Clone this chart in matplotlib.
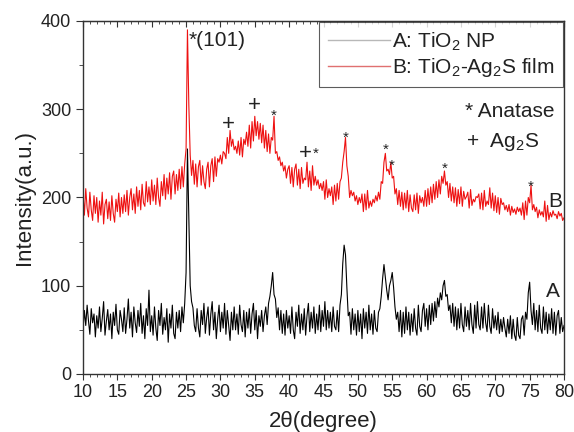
import numpy as np
import matplotlib
matplotlib.use("Agg")
import matplotlib.pyplot as plt
from matplotlib.lines import Line2D
from matplotlib.ticker import MultipleLocator

plt.rcParams["font.family"] = ["Liberation Sans", "DejaVu Sans"]
plt.rcParams["mathtext.fontset"] = "custom"
plt.rcParams["mathtext.rm"] = "Liberation Sans"
plt.rcParams["mathtext.it"] = "Liberation Sans"

# 2theta grid, 0.2 degree step from 10 to 80
two_theta = np.linspace(10, 80, 351)

# A: TiO2 NP (black)
intensity_a = [
    50, 72, 55, 78, 60, 45, 74, 58, 68, 42,
    66, 52, 76, 48, 63, 82, 44, 60, 73, 50,
    68, 40, 70, 55, 79, 50, 45, 72, 62, 48,
    75, 46, 62, 85, 52, 70, 42, 76, 58, 47,
    72, 54, 80, 46, 66, 40, 74, 55, 95, 48,
    66, 44, 76, 52, 38, 72, 55, 80, 45, 64,
    50, 74, 36, 68, 52, 78, 46, 40, 70, 52,
    72, 48, 76, 58, 80, 115, 255, 175, 100, 82,
    75, 55, 48, 74, 52, 42, 72, 56, 80, 46,
    64, 76, 44, 68, 82, 50, 70, 40, 62, 78,
    48, 70, 52, 80, 45, 72, 55, 38, 70, 50,
    76, 50, 68, 45, 78, 56, 48, 72, 42, 70,
    52, 74, 46, 68, 80, 50, 72, 40, 66, 54,
    72, 48, 66, 76, 56, 80, 88, 100, 115, 90,
    85, 64, 75, 50, 72, 46, 68, 44, 72, 52,
    66, 46, 76, 50, 40, 70, 54, 78, 46, 68,
    50, 74, 44, 66, 80, 48, 70, 52, 76, 46,
    68, 50, 78, 48, 72, 54, 82, 50, 72, 52,
    70, 48, 76, 54, 50, 72, 48, 78, 90, 125,
    146, 135, 98, 66, 70, 45, 74, 50, 68, 44,
    72, 48, 68, 40, 74, 52, 70, 46, 78, 50,
    68, 45, 72, 52, 48, 70, 74, 88, 108, 124,
    110, 95, 84, 100, 106, 115, 98, 76, 62, 70,
    48, 72, 42, 70, 46, 76, 50, 70, 44, 68,
    48, 74, 52, 44, 78, 54, 48, 72, 80, 54,
    74, 50, 78, 56, 80, 60, 82, 64, 86, 76,
    92, 84, 100, 106, 88, 90, 72, 78, 58, 80,
    54, 76, 50, 74, 52, 80, 56, 48, 76, 54,
    72, 50, 80, 56, 46, 78, 52, 82, 56, 50,
    76, 52, 80, 58, 48, 78, 54, 46, 74, 52,
    66, 50, 70, 46, 62, 48, 64, 52, 42, 62,
    46, 66, 40, 62, 44, 38, 64, 44, 40, 62,
    66, 44, 70, 62, 92, 104, 72, 56, 80, 50,
    72, 48, 78, 52, 46, 76, 50, 70, 46, 68,
    50, 74, 46, 70, 44, 66, 72, 46, 64, 48,
    55,
]

# B: TiO2-Ag2S film (red)
intensity_b = [
    205, 180, 210, 188, 178, 206, 186, 174, 202, 182,
    200, 172, 196, 180, 206, 170, 192, 198, 176, 195,
    174, 202, 182, 172, 198, 184, 205, 178, 200, 182,
    203, 184, 208, 180, 200, 210, 186, 204, 182, 212,
    190, 208, 186, 215, 194, 190, 218, 195, 212, 192,
    220, 196, 214, 192, 222, 200, 190, 218, 202, 226,
    198, 222, 204, 228, 198, 224, 230, 204, 226, 208,
    232, 210, 235, 212, 238, 255, 390, 305, 248, 225,
    242, 215, 238, 212, 235, 242, 214, 236, 218, 210,
    232, 240, 212, 236, 244, 218, 246, 224, 244, 240,
    248, 238, 252, 250, 244, 268, 250, 276, 258, 266,
    254, 258, 250, 264, 248, 268, 246, 266, 260, 274,
    258, 282, 256, 286, 264, 292, 270, 286, 266, 284,
    262, 282, 256, 276, 252, 272, 250, 268, 265, 292,
    250, 252, 242, 246, 236, 240, 230, 236, 222, 232,
    236, 216, 234, 212, 232, 238, 214, 232, 210, 234,
    216, 222, 220, 240, 212, 230, 208, 236, 214, 224,
    214, 220, 210, 216, 208, 218, 198, 220, 200, 210,
    202, 212, 192, 214, 196, 216, 198, 218, 222, 240,
    252, 268, 236, 224, 200, 208, 202, 206, 196, 202,
    192, 200, 194, 204, 184, 204, 186, 208, 188, 196,
    190, 198, 194, 202, 196, 206, 198, 218, 216, 240,
    250, 230, 232, 226, 240, 222, 224, 204, 210, 192,
    208, 190, 206, 186, 205, 188, 208, 184, 203, 188,
    184, 203, 186, 205, 182, 202, 194, 200, 190, 208,
    190, 210, 192, 212, 194, 215, 198, 218, 200, 220,
    204, 224, 216, 230, 214, 218, 200, 216, 196, 212,
    194, 211, 190, 209, 193, 212, 190, 207, 198, 201,
    206, 188, 209, 191, 198, 195, 201, 200, 204, 187,
    205, 186, 208, 190, 196, 192, 211, 188, 205, 185,
    202, 183, 200, 181, 199, 192, 194, 186, 191, 184,
    192, 180, 190, 183, 187, 181, 189, 184, 188, 180,
    194, 175, 196, 180, 200, 194, 214, 186, 192, 184,
    189, 177, 186, 180, 184, 178, 196, 173, 191, 175,
    183, 178, 185, 180, 181, 176, 184, 179, 182, 174,
    177,
]

# peak markers (2theta, intensity)
anatase_x = [37.8, 43.8, 48.3, 54.1, 54.9, 62.6, 75.2]
anatase_y = [293, 250, 268, 254, 236, 233, 212]
ag2s_x = [31.2, 34.9, 42.3]
ag2s_y = [283, 304, 250]

txt = "#222222"

fig = plt.figure(figsize=(5.74, 4.32), dpi=100)
ax = fig.add_axes([0.1446, 0.1343, 0.8380, 0.8171])

ax.plot(two_theta, intensity_a, color="black", lw=0.8)
ax.plot(two_theta, intensity_b, color="#ee1111", lw=0.8)

for x, y in zip(anatase_x, anatase_y):
    ax.text(x, y, "*", ha="center", va="center", fontsize=11, color=txt)
for x, y in zip(ag2s_x, ag2s_y):
    ax.text(x, y, "+", ha="center", va="center", fontsize=16, color=txt)

ax.text(25.3, 378, "*(101)", ha="left", va="center", fontsize=15, color=txt)
ax.text(77.7, 196, "B", ha="left", va="center", fontsize=15, color=txt)
ax.text(77.4, 94, "A", ha="left", va="center", fontsize=15, color=txt)
ax.text(65.6, 297, "* Anatase", ha="left", va="center", fontsize=15, color=txt)
ax.text(65.8, 263, "+  Ag$_2$S", ha="left", va="center", fontsize=15, color=txt)

handles = [Line2D([], [], color="#b8b8b8", lw=1.0),
           Line2D([], [], color="#e07070", lw=1.0)]
labels = ["A: TiO$_2$ NP", "B: TiO$_2$-Ag$_2$S film"]
leg = ax.legend(handles, labels, loc="upper right", bbox_to_anchor=(1.0, 1.0),
                fontsize=15, frameon=True, fancybox=False, borderaxespad=0.05,
                handlelength=3.0, handletextpad=0.1, labelspacing=0.15,
                borderpad=0.4)
leg.get_frame().set_edgecolor("#333333")
leg.get_frame().set_linewidth(0.8)
for t in leg.get_texts():
    t.set_color(txt)

ax.set_xlim(10, 80)
ax.set_ylim(0, 400)
ax.xaxis.set_major_locator(MultipleLocator(5))
ax.xaxis.set_minor_locator(MultipleLocator(1))
ax.yaxis.set_major_locator(MultipleLocator(100))
ax.yaxis.set_minor_locator(MultipleLocator(50))
ax.tick_params(axis="x", which="both", direction="out", top=False, labelsize=13,
               colors="#333333", labelcolor=txt)
ax.tick_params(axis="x", which="major", length=4)
ax.tick_params(axis="x", which="minor", length=2.5)
ax.tick_params(axis="y", which="both", direction="out", right=False, labelsize=13,
               colors="#333333", labelcolor=txt)
ax.tick_params(axis="y", which="major", length=5)
ax.tick_params(axis="y", which="minor", length=3)

# top axis: inward ticks, no labels
top = ax.secondary_xaxis("top")
top.xaxis.set_major_locator(MultipleLocator(5))
top.xaxis.set_minor_locator(MultipleLocator(1))
top.tick_params(axis="x", which="both", direction="in", labeltop=False,
                colors="#333333")
top.tick_params(axis="x", which="major", length=4)
top.tick_params(axis="x", which="minor", length=2.5)
top.spines["top"].set_color("#333333")

for s in ax.spines.values():
    s.set_color("#333333")
    s.set_linewidth(1.0)

ax.set_xlabel("2θ(degree)", fontsize=16, color=txt, labelpad=7)
ax.set_ylabel("Intensity(a.u.)", fontsize=16, color=txt, labelpad=4)

fig.savefig("out.png", dpi=100)
